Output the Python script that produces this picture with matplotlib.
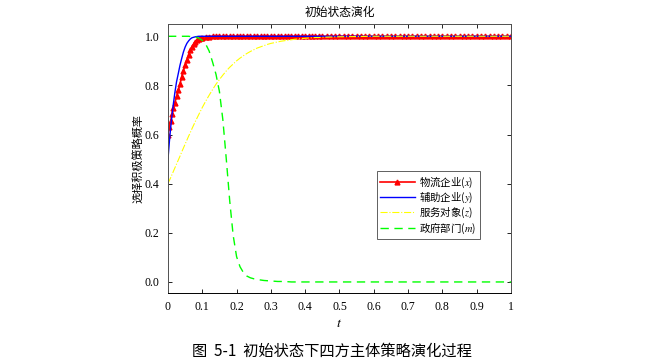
import matplotlib
matplotlib.use("Agg")
import matplotlib.pyplot as plt

plt.rcParams['font.family'] = ['Noto Sans CJK SC', 'DejaVu Sans']
plt.rcParams['mathtext.fontset'] = 'stix'

# shared time grid for y, z, m (0 .. 0.45 dense, then sparse tail)
t = [0, 0.004, 0.008, 0.012, 0.016, 0.02, 0.025, 0.03, 0.035, 0.04, 0.045,
     0.05, 0.055, 0.06, 0.065, 0.07, 0.075, 0.08, 0.085, 0.09, 0.095, 0.10,
     0.11, 0.12, 0.13, 0.14, 0.15, 0.16, 0.17, 0.18, 0.19, 0.20,
     0.21, 0.22, 0.23, 0.24, 0.25, 0.26, 0.27, 0.28, 0.29, 0.30,
     0.31, 0.32, 0.33, 0.34, 0.35, 0.36, 0.37, 0.38, 0.39, 0.40,
     0.41, 0.42, 0.43, 0.44, 0.45, 0.5, 0.55, 0.6, 0.7, 0.8, 0.9, 1.0]

# 辅助企业 y
y_aux = [0.500, 0.570, 0.630, 0.682, 0.728, 0.770, 0.815, 0.848, 0.882, 0.910, 0.936,
         0.956, 0.971, 0.981, 0.989, 0.994, 0.996, 0.998, 0.999, 1.0, 1.0, 1.0,
         1.0, 1.0, 1.0, 1.0, 1.0, 1.0, 1.0, 1.0, 1.0, 1.0,
         1.0, 1.0, 1.0, 1.0, 1.0, 1.0, 1.0, 1.0, 1.0, 1.0,
         1.0, 1.0, 1.0, 1.0, 1.0, 1.0, 1.0, 1.0, 1.0, 1.0,
         1.0, 1.0, 1.0, 1.0, 1.0, 1.0, 1.0, 1.0, 1.0, 1.0, 1.0, 1.0]

# 服务对象 z
z_srv = [0.400, 0.413, 0.425, 0.438, 0.451, 0.464, 0.480, 0.496, 0.512, 0.529, 0.545,
         0.561, 0.577, 0.593, 0.608, 0.624, 0.639, 0.654, 0.668, 0.682, 0.696, 0.710,
         0.736, 0.760, 0.783, 0.805, 0.824, 0.842, 0.859, 0.874, 0.887, 0.900,
         0.911, 0.921, 0.930, 0.938, 0.945, 0.952, 0.957, 0.962, 0.967, 0.971,
         0.974, 0.977, 0.980, 0.982, 0.984, 0.986, 0.988, 0.989, 0.991, 0.992,
         0.993, 0.994, 0.995, 0.995, 0.996, 0.998, 0.999, 1.0, 1.0, 1.0, 1.0, 1.0]

# 政府部门 m
m_gov = [1.0, 1.0, 1.0, 1.0, 1.0, 1.0, 1.0, 1.0, 1.0, 1.0, 1.0,
         1.0, 1.0, 1.0, 0.999, 0.999, 0.998, 0.997, 0.995, 0.992, 0.988, 0.983,
         0.968, 0.940, 0.895, 0.845, 0.775, 0.660, 0.500, 0.330, 0.190, 0.103,
         0.062, 0.038, 0.024, 0.017, 0.013, 0.010, 0.008, 0.006, 0.005, 0.004,
         0.003, 0.002, 0.002, 0.001, 0.001, 0.0, 0.0, 0.0, 0.0, 0.0,
         0.0, 0.0, 0.0, 0.0, 0.0, 0.0, 0.0, 0.0, 0.0, 0.0, 0.0, 0.0]

# 物流企业 x (solver points, each one carries a marker)
t_x = [0, 0.004, 0.008, 0.012, 0.016, 0.02, 0.025, 0.03, 0.035, 0.04, 0.045,
       0.05, 0.055, 0.06, 0.065, 0.07, 0.075, 0.08, 0.085, 0.09, 0.095, 0.10,
       0.11, 0.12, 0.13, 0.14, 0.15, 0.16, 0.17, 0.18, 0.19, 0.20,
       0.21, 0.22, 0.23, 0.24, 0.25, 0.26, 0.27, 0.28, 0.29, 0.30,
       0.31, 0.32, 0.33, 0.34, 0.35, 0.36, 0.37, 0.38, 0.39, 0.40,
       0.41, 0.42, 0.43, 0.44, 0.45,
       0.4625, 0.475, 0.4875, 0.5, 0.5125, 0.525, 0.5375, 0.55, 0.5625, 0.575,
       0.5875, 0.6, 0.6125, 0.625, 0.6375, 0.65, 0.6625, 0.675, 0.6875, 0.7,
       0.7125, 0.725, 0.7375, 0.75, 0.7625, 0.775, 0.7875, 0.8, 0.8125, 0.825,
       0.8375, 0.85, 0.8625, 0.875, 0.8875, 0.9, 0.9125, 0.925, 0.9375, 0.95,
       0.9625, 0.975, 0.9875, 1.0]
x_log = [0.600, 0.629, 0.657, 0.684, 0.708, 0.730, 0.755, 0.780, 0.805, 0.836, 0.860,
         0.885, 0.905, 0.925, 0.943, 0.958, 0.969, 0.978, 0.985, 0.990, 0.993, 0.995,
         0.998, 0.999, 1.0, 1.0, 1.0, 1.0, 1.0, 1.0, 1.0, 1.0,
         1.0, 1.0, 1.0, 1.0, 1.0, 1.0, 1.0, 1.0, 1.0, 1.0,
         1.0, 1.0, 1.0, 1.0, 1.0, 1.0, 1.0, 1.0, 1.0, 1.0,
         1.0, 1.0, 1.0, 1.0, 1.0,
         1.0, 1.0, 1.0, 1.0, 1.0, 1.0, 1.0, 1.0, 1.0, 1.0,
         1.0, 1.0, 1.0, 1.0, 1.0, 1.0, 1.0, 1.0, 1.0, 1.0,
         1.0, 1.0, 1.0, 1.0, 1.0, 1.0, 1.0, 1.0, 1.0, 1.0,
         1.0, 1.0, 1.0, 1.0, 1.0, 1.0, 1.0, 1.0, 1.0, 1.0,
         1.0, 1.0, 1.0, 1.0]

xticks = [0, 0.1, 0.2, 0.3, 0.4, 0.5, 0.6, 0.7, 0.8, 0.9, 1.0]
xtick_labels = ['0', '0.1', '0.2', '0.3', '0.4', '0.5', '0.6', '0.7', '0.8', '0.9', '1']
yticks = [0.0, 0.2, 0.4, 0.6, 0.8, 1.0]
ytick_labels = ['0.0', '0.2', '0.4', '0.6', '0.8', '1.0']

fig = plt.figure(figsize=(6.65, 3.63), dpi=100)
ax = fig.add_axes([0.2526, 0.1928, 0.5158, 0.7411])

ax.plot(t_x, x_log, color='#ff0000', lw=1.2, marker='^', ms=3.5, label='物流企业($x$)')
ax.plot(t, y_aux, color='#0000ff', lw=1.0, label='辅助企业($y$)')
ax.plot(t, z_srv, color='#ffff00', lw=0.8, ls='-.', label='服务对象($z$)')
ax.plot(t, m_gov, color='#00ff00', lw=1.0, ls=(0, (6, 4)), label='政府部门($m$)')

ax.set_xlim(0, 1)
ax.set_ylim(-0.045, 1.05)
ax.set_xticks(xticks)
ax.set_xticklabels(xtick_labels, family='Liberation Serif', fontsize=8.5)
ax.set_yticks(yticks)
ax.set_yticklabels(ytick_labels, family='Liberation Serif', fontsize=8.5)
ax.tick_params(direction='in', top=True, right=True, length=3, width=0.6, pad=6)
for s in ax.spines.values():
    s.set_color('#505050')
    s.set_linewidth(0.7)
ax.spines['bottom'].set_color('black')

ax.set_title('初始状态演化', fontsize=8.5, pad=6)
ax.set_xlabel('$t$', fontsize=10, labelpad=2)
ax.set_ylabel('选择积极策略概率', fontsize=8, labelpad=1)

leg = ax.legend(loc='upper left', bbox_to_anchor=(0.608, 0.452), fontsize=7.5,
                fancybox=False, edgecolor='#606060', framealpha=1,
                handlelength=3.4, handletextpad=0.4, borderpad=0.3,
                labelspacing=0.08, borderaxespad=0)
leg.get_frame().set_linewidth(0.7)

fig.text(0.499, 0.033, '图  5-1  初始状态下四方主体策略演化过程', ha='center', va='center', fontsize=11)

fig.savefig('out.png', dpi=100)
